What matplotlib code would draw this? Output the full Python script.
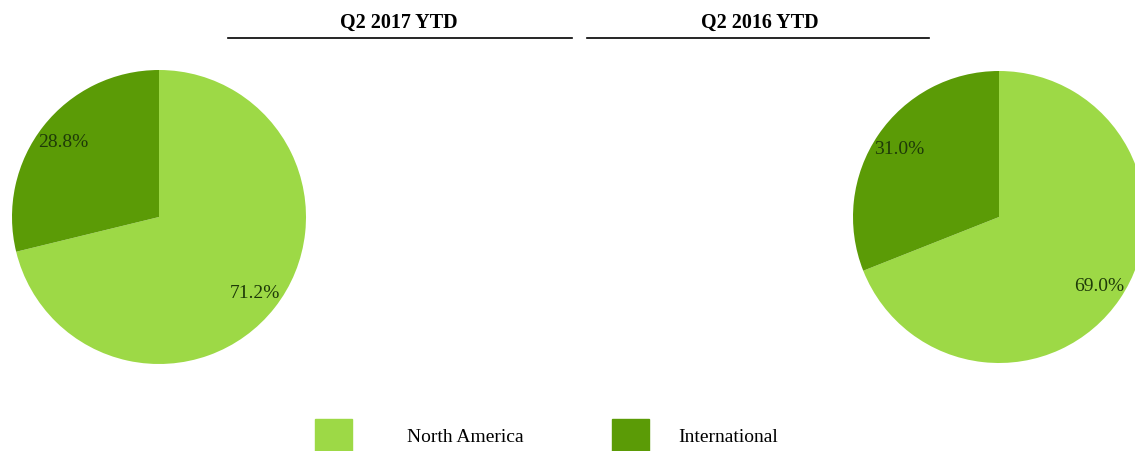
import numpy as np
import matplotlib
matplotlib.use("Agg")
from matplotlib import pyplot as plt
from matplotlib.patches import Rectangle

# datos
categorias = ['North America', 'International']
titulos = ['Q2 2017 YTD', 'Q2 2016 YTD']
valores_2017 = [71.2, 28.8]
valores_2016 = [69.0, 31.0]
colores = ['#9dd946', '#5b9b06']

plt.rcParams['font.family'] = ['Liberation Serif', 'DejaVu Serif']

W, H = 1135, 452
fig = plt.figure(figsize=(W / 100, H / 100), dpi=100)


def caja(x0, y0, x1, y1):
    # convierte pixeles (origen arriba) a fraccion de la figura
    return [x0 / W, 1 - y1 / H, (x1 - x0) / W, (y1 - y0) / H]


def pastel(pos, valores):
    ax = fig.add_axes(pos)
    ax.pie(valores, colors=colores, startangle=90, counterclock=False,
           autopct='%1.1f%%', pctdistance=0.83,
           wedgeprops=dict(linewidth=0),
           textprops=dict(fontsize=14, color='#1e3a08'))
    ax.set_xlim(-1, 1)
    ax.set_ylim(-1, 1)
    ax.set_aspect('equal')
    ax.axis('off')
    return ax


pastel(caja(12, 71, 306, 365), valores_2017)
pastel(caja(853, 72, 1145, 364), valores_2016)

# titulos con lineas
fig.text(399 / W, 1 - 23 / H, titulos[0], ha='center', va='center',
         fontsize=14.5, fontweight='bold')
fig.text(760 / W, 1 - 23 / H, titulos[1], ha='center', va='center',
         fontsize=14.5, fontweight='bold')
for x0, x1 in [(228, 572), (587, 929)]:
    fig.add_artist(plt.Line2D([x0 / W, x1 / W], [1 - 38.5 / H] * 2,
                              color='black', linewidth=1.2))

# leyenda
for i, (nombre, color) in enumerate(zip(categorias, colores)):
    x_caja = [315, 612][i]
    x_txt = [407, 678][i]
    fig.add_artist(Rectangle((x_caja / W, 1 - 452 / H), 37 / W, 32 / H,
                             color=color, transform=fig.transFigure))
    fig.text(x_txt / W, 1 - 438 / H, nombre, ha='left', va='center',
             fontsize=14)

fig.savefig('out.png', dpi=100)
